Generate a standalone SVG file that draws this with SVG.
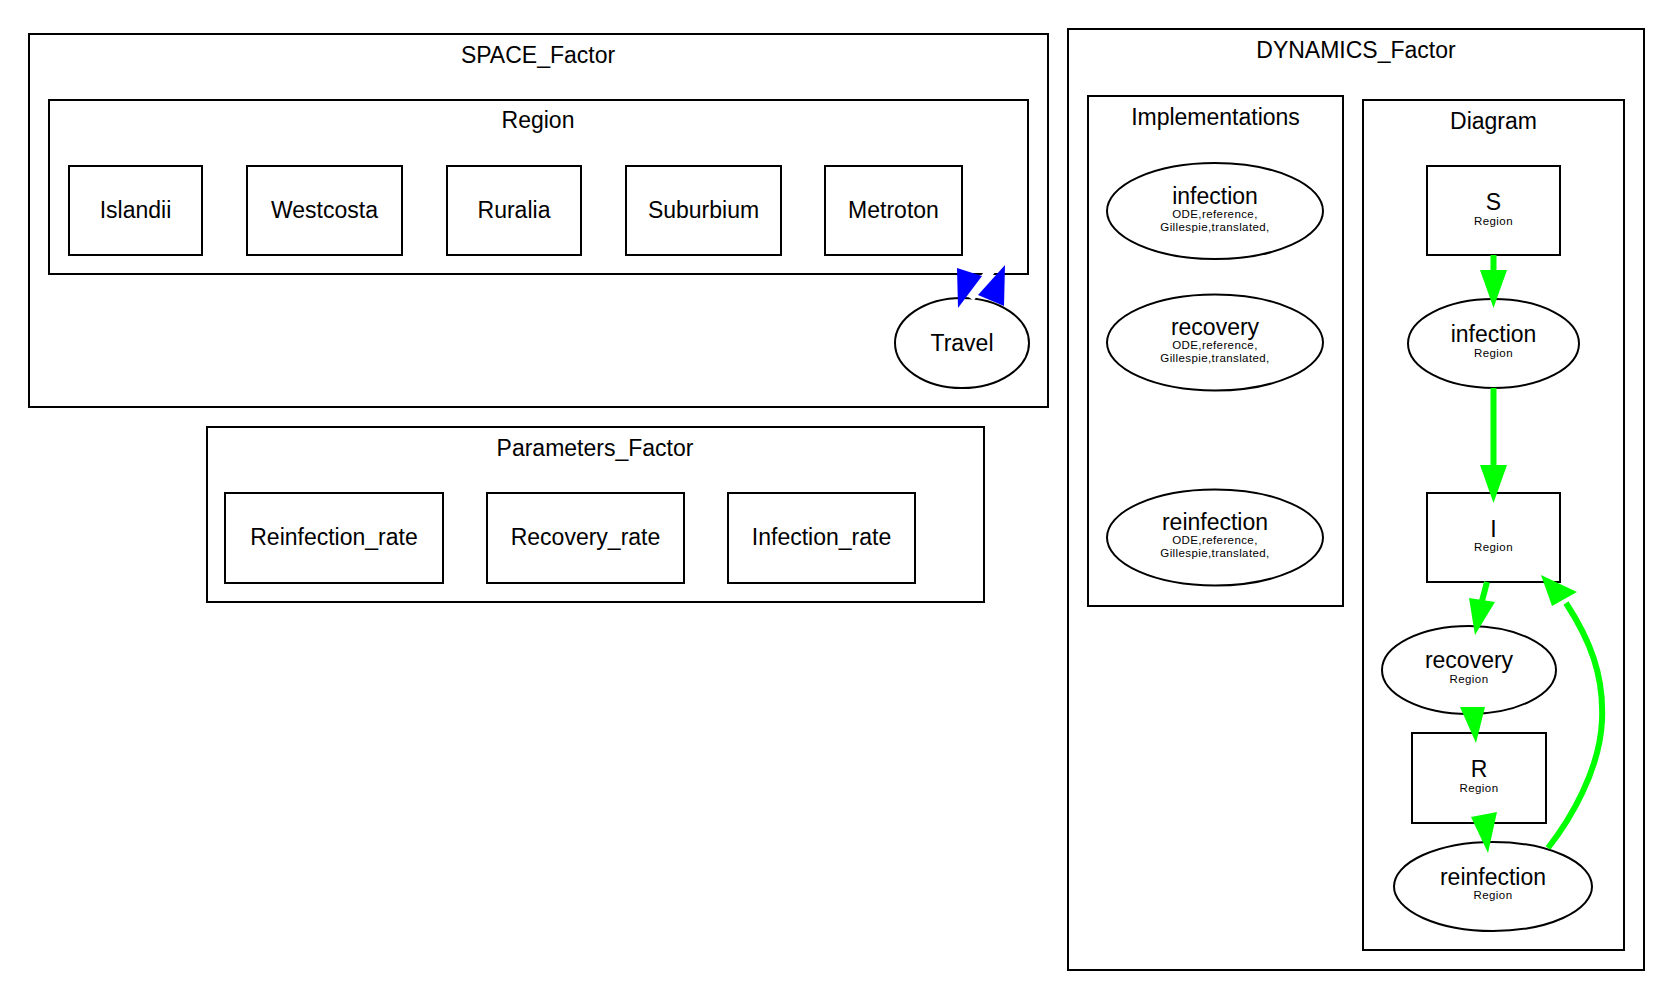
<svg xmlns="http://www.w3.org/2000/svg" width="1673" height="1000" viewBox="0 0 1673 1000">
<style>
  text { font-family: "Liberation Sans", Arial, Helvetica, sans-serif; fill: #000; text-anchor: middle; }
  .lbl { font-size: 23px; }
  .sub { font-size: 11.5px; letter-spacing: 0.4px; }
  .cl { fill: none; stroke: #000; stroke-width: 2; }
  .nd { fill: #fff; stroke: #000; stroke-width: 2; }
  .ge { fill: none; stroke: #00ff00; stroke-width: 6; }
  .gh { fill: #00ff00; stroke: none; }
  .bh { fill: #0000ff; stroke: none; }
</style>
<rect width="1673" height="1000" fill="#fff"/>

<g id="clusters">
  <g id="cluster_space">
    <rect class="cl" x="29" y="34" width="1019" height="373"/>
    <text class="lbl" x="538" y="63">SPACE_Factor</text>
  </g>
  <g id="cluster_region">
    <rect class="cl" x="49" y="100" width="979" height="174"/>
    <text class="lbl" x="538" y="128">Region</text>
  </g>
  <g id="cluster_parameters">
    <rect class="cl" x="207" y="427" width="777" height="175"/>
    <text class="lbl" x="595" y="456">Parameters_Factor</text>
  </g>
  <g id="cluster_dynamics">
    <rect class="cl" x="1068" y="29" width="576" height="941"/>
    <text class="lbl" x="1356" y="58">DYNAMICS_Factor</text>
  </g>
  <g id="cluster_impl">
    <rect class="cl" x="1088" y="96" width="255" height="510"/>
    <text class="lbl" x="1215.5" y="125">Implementations</text>
  </g>
  <g id="cluster_diagram">
    <rect class="cl" x="1363" y="100" width="261" height="850"/>
    <text class="lbl" x="1493.5" y="129">Diagram</text>
  </g>
</g>

<g id="node_islandii">
  <rect class="nd" x="69" y="166" width="133" height="89"/>
  <text class="lbl" x="135.5" y="218">Islandii</text>
</g>
<g id="node_westcosta">
  <rect class="nd" x="247" y="166" width="155" height="89"/>
  <text class="lbl" x="324.5" y="218">Westcosta</text>
</g>
<g id="node_ruralia">
  <rect class="nd" x="447" y="166" width="134" height="89"/>
  <text class="lbl" x="514" y="218">Ruralia</text>
</g>
<g id="node_suburbium">
  <rect class="nd" x="626" y="166" width="155" height="89"/>
  <text class="lbl" x="703.5" y="218">Suburbium</text>
</g>
<g id="node_metroton">
  <rect class="nd" x="825" y="166" width="137" height="89"/>
  <text class="lbl" x="893.5" y="218">Metroton</text>
</g>
<g id="node_travel">
  <ellipse class="nd" cx="962" cy="343" rx="67" ry="45"/>
  <text class="lbl" x="962" y="351">Travel</text>
</g>

<g id="node_reinfection_rate">
  <rect class="nd" x="225" y="493" width="218" height="90"/>
  <text class="lbl" x="334" y="545">Reinfection_rate</text>
</g>
<g id="node_recovery_rate">
  <rect class="nd" x="487" y="493" width="197" height="90"/>
  <text class="lbl" x="585.5" y="545">Recovery_rate</text>
</g>
<g id="node_infection_rate">
  <rect class="nd" x="728" y="493" width="187" height="90"/>
  <text class="lbl" x="821.5" y="545">Infection_rate</text>
</g>

<g id="node_impl_infection">
  <ellipse class="nd" cx="1215" cy="211" rx="108" ry="48"/>
  <text class="lbl" x="1215" y="204">infection</text>
  <text class="sub" x="1215" y="218">ODE,reference,</text>
  <text class="sub" x="1215" y="231">Gillespie,translated,</text>
</g>
<g id="node_impl_recovery">
  <ellipse class="nd" cx="1215" cy="342.5" rx="108" ry="48"/>
  <text class="lbl" x="1215" y="335">recovery</text>
  <text class="sub" x="1215" y="349">ODE,reference,</text>
  <text class="sub" x="1215" y="362">Gillespie,translated,</text>
</g>
<g id="node_impl_reinfection">
  <ellipse class="nd" cx="1215" cy="537.5" rx="108" ry="48"/>
  <text class="lbl" x="1215" y="530">reinfection</text>
  <text class="sub" x="1215" y="544">ODE,reference,</text>
  <text class="sub" x="1215" y="557">Gillespie,translated,</text>
</g>

<g id="node_S">
  <rect class="nd" x="1427" y="166" width="133" height="89"/>
  <text class="lbl" x="1493.5" y="210">S</text>
  <text class="sub" x="1493.5" y="225">Region</text>
</g>
<g id="node_infection">
  <ellipse class="nd" cx="1493.5" cy="343.5" rx="85.5" ry="44.5"/>
  <text class="lbl" x="1493.5" y="342">infection</text>
  <text class="sub" x="1493.5" y="357">Region</text>
</g>
<g id="node_I">
  <rect class="nd" x="1427" y="493" width="133" height="89"/>
  <text class="lbl" x="1493.5" y="537">I</text>
  <text class="sub" x="1493.5" y="551">Region</text>
</g>
<g id="node_recovery">
  <ellipse class="nd" cx="1469" cy="670" rx="87" ry="44"/>
  <text class="lbl" x="1469" y="668">recovery</text>
  <text class="sub" x="1469" y="683">Region</text>
</g>
<g id="node_R">
  <rect class="nd" x="1412" y="733" width="134" height="90"/>
  <text class="lbl" x="1479" y="777">R</text>
  <text class="sub" x="1479" y="792">Region</text>
</g>
<g id="node_reinfection">
  <ellipse class="nd" cx="1493" cy="886.5" rx="99" ry="44.5"/>
  <text class="lbl" x="1493" y="885">reinfection</text>
  <text class="sub" x="1493" y="899">Region</text>
</g>

<g id="connectors">
  <!-- Region <-> Travel -->
  <line x1="994" y1="266" x2="970" y2="298" stroke="#fff" stroke-width="9"/>
  <polygon class="bh" points="957,268 982,276 958,308"/>
  <polygon class="bh" points="1005,265 1004,306 978,295"/>

  <!-- S -> infection -->
  <line class="ge" x1="1493.5" y1="255" x2="1493.5" y2="272"/>
  <polygon class="gh" points="1480,270 1507,270 1493.5,308"/>
  <!-- infection -> I -->
  <line class="ge" x1="1493.5" y1="388" x2="1493.5" y2="467"/>
  <polygon class="gh" points="1480,465 1507,465 1493.5,503"/>
  <!-- I -> recovery -->
  <line class="ge" x1="1487" y1="582" x2="1482" y2="601"/>
  <polygon class="gh" points="1469,598 1495,602 1475,635"/>
  <!-- recovery -> R -->
  <polygon class="gh" points="1460,707 1485,707 1476,743"/>
  <!-- R -> reinfection -->
  <polygon class="gh" points="1471,817 1497,812 1488,853"/>
  <!-- reinfection -> I -->
  <path class="ge" d="M1548,848 C1570,820 1600,770 1602,720 C1604,675 1590,640 1566,603"/>
  <polygon class="gh" points="1552,606 1577,592 1541,575"/>
</g>
</svg>
